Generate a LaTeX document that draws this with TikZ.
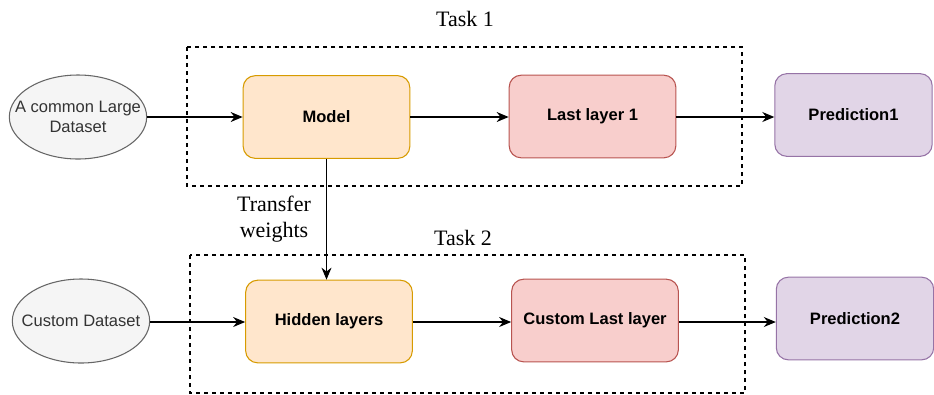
\documentclass[tikz,border=0pt]{standalone}
\usepackage{fontspec}
\setmainfont{Liberation Serif}
\setsansfont{Liberation Sans}
\usetikzlibrary{shapes.geometric,arrows.meta}

\definecolor{orfill}{HTML}{FFE6CC}
\definecolor{ordraw}{HTML}{D79B00}
\definecolor{rdfill}{HTML}{F8CECC}
\definecolor{rddraw}{HTML}{B85450}
\definecolor{pufill}{HTML}{E1D5E7}
\definecolor{pudraw}{HTML}{9673A6}
\definecolor{gyfill}{HTML}{F5F5F5}
\definecolor{gydraw}{HTML}{666666}
\definecolor{gytext}{HTML}{333333}

\tikzset{
	layer/.style={draw, line width=0.8pt, rounded corners=9pt, minimum width=125pt, minimum height=62pt, align=center, font=\sffamily\bfseries\fontsize{12.4}{14}\selectfont},
	hidden/.style={layer, fill=orfill, draw=ordraw},
	last/.style={layer, fill=rdfill, draw=rddraw},
	pred/.style={layer, fill=pufill, draw=pudraw, minimum width=118pt},
	data/.style={ellipse, draw=gydraw, fill=gyfill, text=gytext, line width=0.8pt, minimum width=103pt, minimum height=63pt, inner xsep=-12pt, inner ysep=0pt, align=center, font=\sffamily\fontsize{12.4}{14.5}\selectfont},
	task/.style={draw, line width=0.8pt, dash pattern=on 3pt off 3pt},
	tasklabel/.style={font=\fontsize{16.5}{20}\selectfont, align=center},
	flow/.style={-{Stealth[length=9pt,width=7.5pt]}, line width=0.8pt}
}

\begin{document}
\begin{tikzpicture}[x=0.75pt,y=-0.75pt]
	\useasboundingbox (0,0) rectangle (934,394);

	% task frames
	\draw[task] (187,47) rectangle (742,186);
	\draw[task] (190,255) rectangle (745,393);
	\node[tasklabel] (task1) at (465,19) {Task 1};
	\node[tasklabel] (task2) at (463,238) {Task 2};

	% first task
	\node[data] (large) at (78,117) {A common Large\\Dataset};
	\node[hidden] (model) at (326.5,117) {Model};
	\node[last] (last1) at (592.5,116.5) {Last layer 1};
	\node[pred] (pred1) at (853.5,115) {Prediction1};

	% second task
	\node[data] (custom) at (81,321) {Custom Dataset};
	\node[hidden] (hid) at (329,321.5) {Hidden layers};
	\node[last] (last2) at (595,320.5) {Custom Last layer};
	\node[pred] (pred2) at (855,318.5) {Prediction2};

	\draw[flow] (large.east |- 0,117) -- (model.west |- 0,117);
	\draw[flow] (model.east |- 0,117) -- (last1.west |- 0,117);
	\draw[flow] (last1.east |- 0,117) -- (pred1.west |- 0,117);

	\draw[flow] (custom.east |- 0,322) -- (hid.west |- 0,322);
	\draw[flow] (hid.east |- 0,322) -- (last2.west |- 0,322);
	\draw[flow] (last2.east |- 0,322) -- (pred2.west |- 0,322);

	% weights handed down
	\draw[flow] (model.south) -- (model.south |- hid.north)
		node[pos=0.5, left, tasklabel, xshift=-8pt] (transfer) {Transfer\\weights};
\end{tikzpicture}
\end{document}
